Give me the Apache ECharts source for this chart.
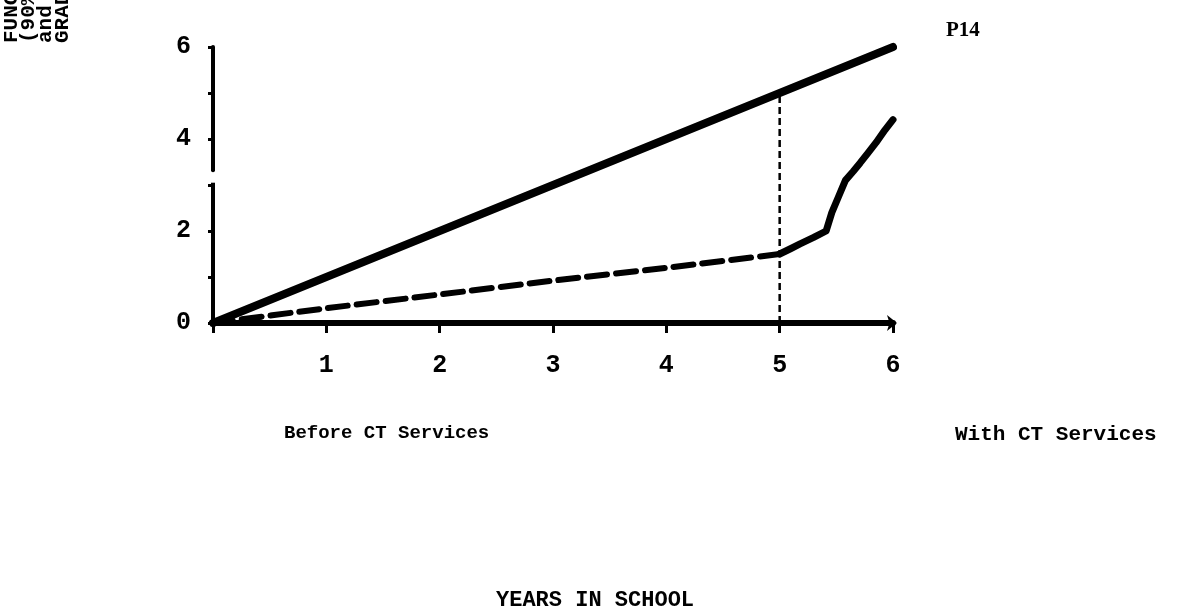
<!DOCTYPE html>
<html>
<head>
<meta charset="utf-8">
<title>Years in School</title>
<script src="https://cdn.jsdelivr.net/npm/echarts@6/dist/echarts.min.js"></script>
<style>
  html, body { margin: 0; padding: 0; background: #ffffff; }
  #chart { width: 1190px; height: 615px; }
</style>
</head>
<body>
<div id="chart"></div>
<script>
// Years in school along the x axis, grade level on the y axis
var xTicks = [0, 1, 2, 3, 4, 5, 6];
var yTickLabels = ['0', '2', '4', '6'];

// Expected progress: one grade level per year
var expected = [[0, 0], [6, 6]];

// Actual progress before CT services (dashed)
var beforeCT = [[0, 0], [1, 0.32], [2, 0.62], [3, 0.92], [4, 1.2], [5, 1.5]];

// Actual progress with CT services during the sixth year
var withCT = [[5, 1.5], [5.1, 1.62], [5.18, 1.72], [5.3, 1.86], [5.41, 2.0], [5.46, 2.4],
              [5.52, 2.75], [5.58, 3.1], [5.65, 3.3], [5.71, 3.48], [5.78, 3.7],
              [5.85, 3.92], [5.93, 4.2], [6, 4.42]];

// Marker for the start of CT services
var serviceStart = [[5, 0], [5, 5]];

// Vertical axis drawn in two pieces with a small break near 3
var yAxisLower = [[0, 0], [0, 3.05]];
var yAxisUpper = [[0, 3.32], [0, 6]];

var typeFont = '"Liberation Mono", "DejaVu Sans Mono", monospace';
var ink = '#000000';

var chart = echarts.init(document.getElementById('chart'), null, { renderer: 'canvas' });

function plainLine(name, data, style) {
  return {
    name: name,
    type: 'line',
    data: data,
    symbol: 'none',
    clip: false,
    silent: true,
    lineStyle: style
  };
}

function sidewaysLine(text, offset) {
  return {
    type: 'text', x: 0, y: offset,
    style: { text: text, font: 'bold 21px ' + typeFont, fill: ink, textVerticalAlign: 'top' }
  };
}

chart.setOption({
  backgroundColor: '#ffffff',
  animation: false,
  grid: { left: 213, right: 297, top: 47, bottom: 292, containLabel: false },
  xAxis: {
    type: 'value',
    min: xTicks[0],
    max: xTicks[xTicks.length - 1],
    interval: 1,
    splitLine: { show: false },
    axisLine: {
      show: true,
      lineStyle: { color: ink, width: 6 },
      symbol: ['none', 'arrow'],
      symbolSize: [12, 10],
      symbolOffset: [0, 4]
    },
    axisTick: { show: true, inside: false, length: 10, lineStyle: { color: ink, width: 3 } },
    axisLabel: {
      margin: 30,
      color: ink,
      fontFamily: typeFont,
      fontWeight: 'bold',
      fontSize: 25,
      formatter: function (v) { return v === 0 ? '' : String(v); }
    }
  },
  yAxis: {
    type: 'value',
    min: 0,
    max: 6,
    interval: 1,
    splitLine: { show: false },
    axisLine: { show: false },
    axisTick: { show: true, inside: false, length: 5, lineStyle: { color: ink, width: 3 } },
    axisLabel: {
      margin: 22,
      color: ink,
      fontFamily: typeFont,
      fontWeight: 'bold',
      fontSize: 25,
      formatter: function (v) {
        return yTickLabels.indexOf(String(v)) >= 0 ? String(v) : '';
      }
    }
  },
  series: [
    plainLine('Axis lower', yAxisLower, { color: ink, width: 4 }),
    plainLine('Axis upper', yAxisUpper, { color: ink, width: 4, cap: 'round' }),
    plainLine('Expected', expected, { color: ink, width: 8, cap: 'round' }),
    Object.assign(plainLine('Before CT Services', beforeCT,
      { color: ink, width: 6, type: [20, 9], cap: 'round' }), { smooth: 0.2 }),
    plainLine('With CT Services', withCT, { color: ink, width: 7, cap: 'round', join: 'round' }),
    plainLine('Service start', serviceStart, { color: ink, width: 2.5, type: [7, 4] })
  ],
  graphic: [
    {
      type: 'text', left: 284, top: 424,
      style: { text: 'Before CT Services', font: 'bold 19px ' + typeFont, fill: ink }
    },
    {
      type: 'text', left: 955, top: 424,
      style: { text: 'With CT Services', font: 'bold 21px ' + typeFont, fill: ink }
    },
    {
      type: 'text', left: 496, top: 589,
      style: { text: 'YEARS IN SCHOOL', font: 'bold 22px ' + typeFont, fill: ink }
    },
    {
      type: 'text', left: 946, top: 20,
      style: { text: 'P14', font: 'bold 21px "Liberation Serif", serif', fill: ink }
    },
    // Vertical axis title, typed sideways and running off the top edge
    {
      type: 'group', x: 1, y: 43, rotation: Math.PI / 2,
      children: [
        sidewaysLine('FUNCTIONAL LEVEL', 0),
        sidewaysLine('(90% MASTERY)', 17),
        sidewaysLine('and', 34),
        sidewaysLine('GRADE PLACEMENT', 51)
      ]
    }
  ]
});
</script>
</body>
</html>
